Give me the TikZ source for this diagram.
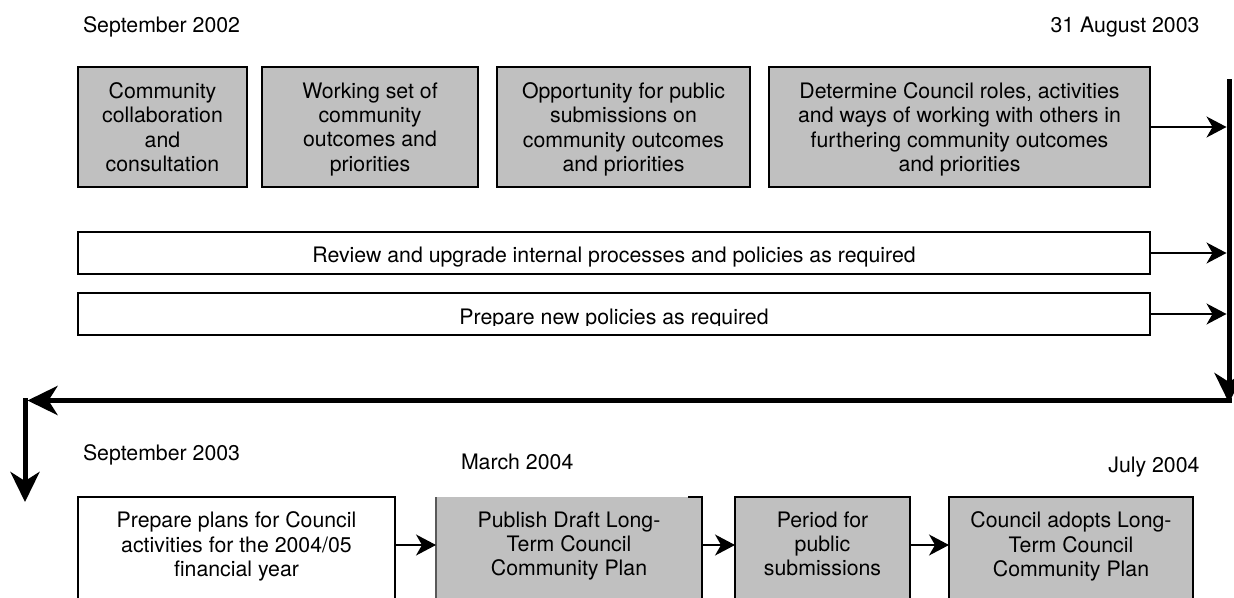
\documentclass[tikz,border=0pt]{standalone}
\usepackage{fontspec}
\setmainfont{TeX Gyre Heros}
\usetikzlibrary{arrows.meta}
\definecolor{boxgray}{RGB}{192,192,192}
\begin{document}
\begin{tikzpicture}[x=1pt,y=-1pt,
  txt/.style={font=\fontsize{21.3}{24.2}\selectfont, inner sep=0pt, outer sep=0pt},
  boxbase/.style={line width=1.4pt, inner sep=0pt, outer sep=0pt},
  graybox/.style={boxbase, draw=black, fill=boxgray, align=center, txt, text depth=0pt},
  whitebox/.style={boxbase, draw=black, fill=white},
  thinarrow/.style={line width=1.3pt, -{Stealth[length=20pt,width=21pt,inset=6pt]}},
  thickarrow/.style={line width=5pt, -{Stealth[length=30pt,width=29pt,inset=9pt]}},
  datetext/.style={txt}
]
\useasboundingbox (0,0) rectangle (1234,597);
\clip (0,0) rectangle (1234,597);

% dates
\node[datetext, anchor=base west] (d1) at (83,32.6) {September 2002};
\node[datetext, anchor=base east] (d2) at (1199.5,32.6) {31 August 2003};
\node[datetext, anchor=base west] (d3) at (83,460.6) {September 2003};
\node[datetext, anchor=base west] (d4) at (461,469.6) {March 2004};
\node[datetext, anchor=base east] (d5) at (1199.5,472.6) {July 2004};

% top boxes
\node[graybox, minimum width=169pt, minimum height=120pt] (t1) at (162.5,127) {Community\\collaboration\\and\\consultation};
\node[graybox, minimum width=216pt, minimum height=120pt] (t2) at (370,127) {Working set of\\community\\outcomes and\\priorities};
\node[graybox, minimum width=253pt, minimum height=120pt] (t3) at (623.5,127) {Opportunity for public\\submissions on\\community outcomes\\and priorities};
\node[graybox, minimum width=381pt, minimum height=120pt] (t4) at (959.5,127) {Determine Council roles, activities\\and ways of working with others in\\furthering community outcomes\\and priorities};

% wide boxes
\node[whitebox, minimum width=1072pt, minimum height=42pt] (w1) at (614,253) {};
\node[whitebox, minimum width=1072pt, minimum height=42pt] (w2) at (614,314) {};
\node[txt, anchor=base] (w1t) at (614,262.6) {Review and upgrade internal processes and policies as required};
\begin{scope}
\clip (80,295) rectangle (1148,325.5);
\node[txt, anchor=base] (w2t) at (614,324.6) {Prepare new policies as required};
\end{scope}

% right thick line and arrows into it
\coordinate (rtop) at (1229,79);
\coordinate (rbot) at (1229,403);
\coordinate (rx) at (1226.5,0);
\draw[thinarrow] (t4.east) -- (t4.east -| rx);
\draw[thinarrow] (w1.east) -- (w1.east -| rx);
\draw[thinarrow] (w2.east) -- (w2.east -| rx);
\draw[thickarrow] (rtop) -- (rbot);

% return line
\coordinate (hr) at (1231.5,400.5);
\coordinate (hl) at (27.5,400.5);
\coordinate (vt) at (25,398);
\coordinate (vb) at (25,502);
\draw[thickarrow] (hr) -- (hl);
\draw[thickarrow] (vt) -- (vb);

% bottom boxes
\node[whitebox, minimum width=317pt, minimum height=130pt] (b1) at (236.5,562) {};
\node[boxbase, fill=boxgray, minimum width=266pt, minimum height=130pt] (b2) at (569,562) {};
\draw[line width=1.2pt, black!65] (b2.north west) -- (b2.south west);
\draw[line width=1.4pt] (b2.south east) -- (b2.north east) -- ++(-14,0);
\node[boxbase, draw=black, fill=boxgray, minimum width=175pt, minimum height=130pt] (b3) at (822.5,562) {};
\node[boxbase, draw=black, fill=boxgray, minimum width=244pt, minimum height=130pt] (b4) at (1071,562) {};

\node[txt, align=center, anchor=north] (b1t) at (236.5,512) {Prepare plans for Council\\activities for the 2004/05\\financial year};
\node[txt, align=center, anchor=north] (b2t) at (569,512) {Publish Draft Long-\\Term Council\\Community Plan};
\node[txt, align=center, anchor=north] (b3t) at (822.5,512) {Period for\\public\\submissions};
\node[txt, align=center, anchor=north] (b4t) at (1071,512) {Council adopts Long-\\Term Council\\Community Plan};

\coordinate (ay) at (0,545);
\draw[thinarrow] (b1.east |- ay) -- (b2.west |- ay);
\draw[thinarrow] (b2.east |- ay) -- (b3.west |- ay);
\draw[thinarrow] (b3.east |- ay) -- (b4.west |- ay);
\end{tikzpicture}
\end{document}
